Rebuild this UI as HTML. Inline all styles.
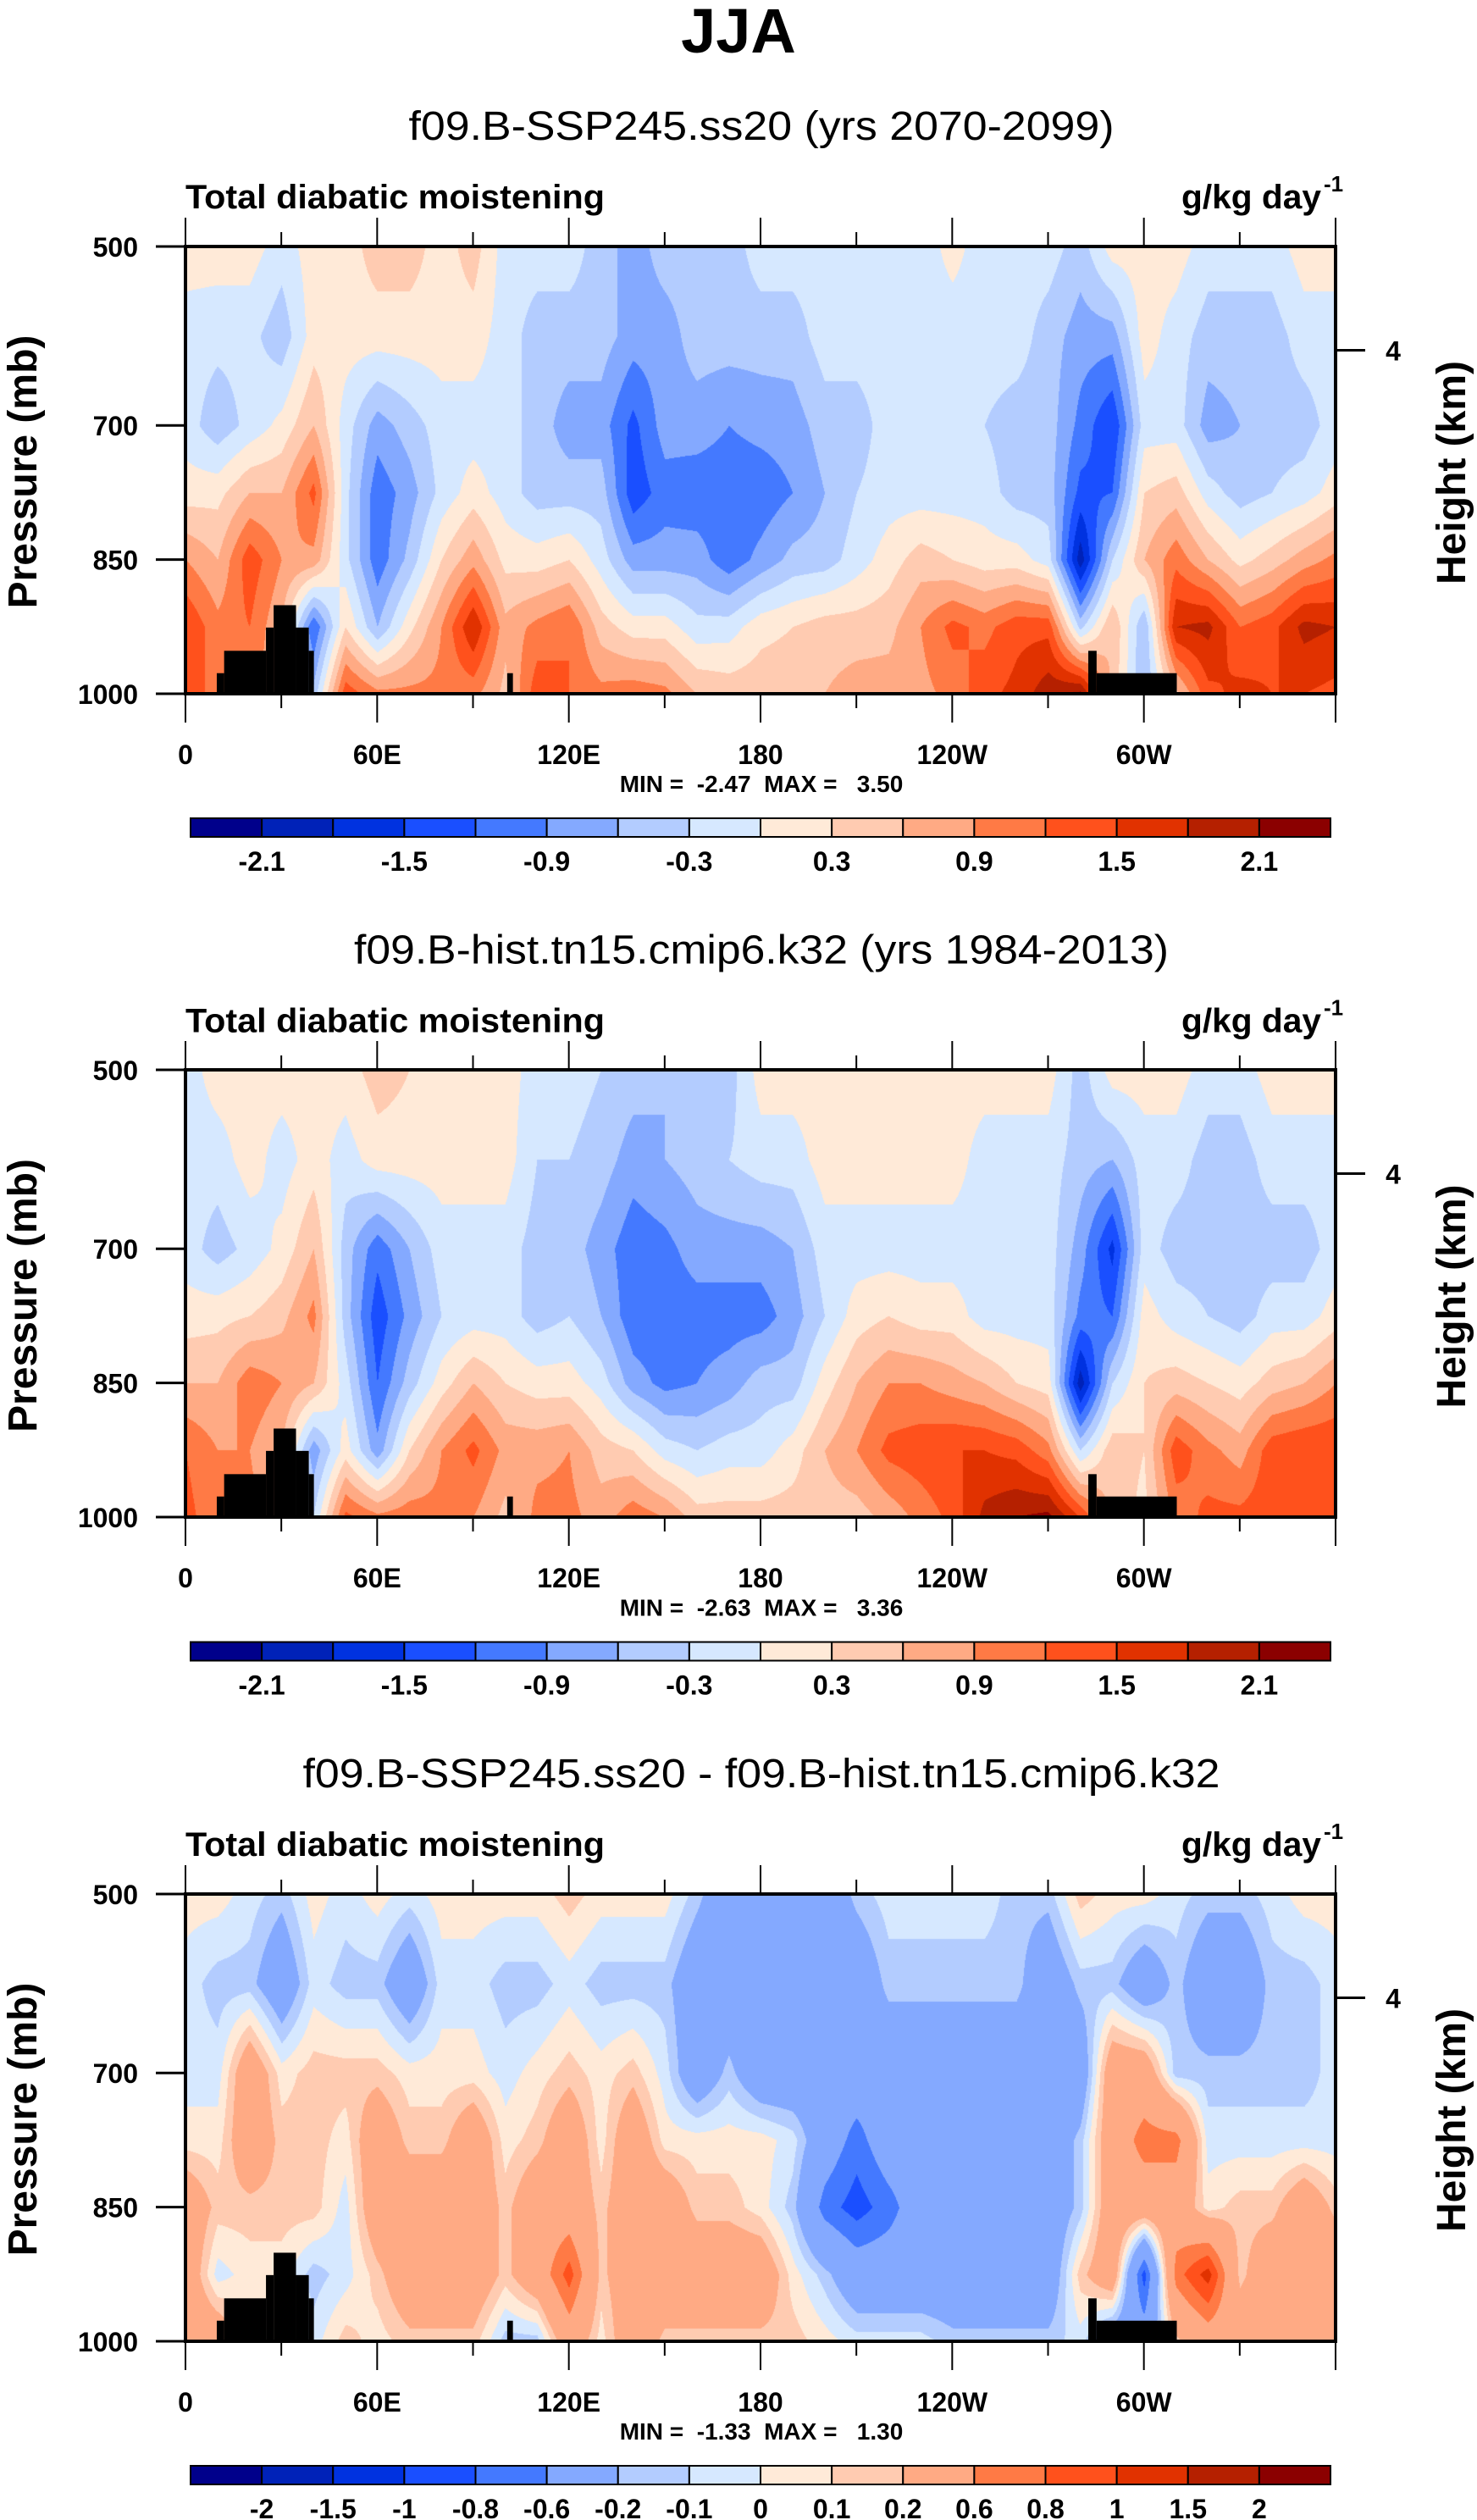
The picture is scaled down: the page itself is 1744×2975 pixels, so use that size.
<!DOCTYPE html>
<html><head><meta charset="utf-8">
<style>
html,body{margin:0;padding:0;background:#fff;}
#wrap{position:relative;width:1744px;height:2975px;overflow:hidden;}
canvas{position:absolute;}
svg{position:absolute;left:0;top:0;}
text{font-family:"Liberation Sans",sans-serif;fill:#000;}
.b{font-weight:bold;}
</style></head>
<body>
<div id="wrap">
<canvas id="c0" width="1358" height="528" style="left:219px;top:291px"></canvas>
<canvas id="c1" width="1358" height="528" style="left:219px;top:1263px"></canvas>
<canvas id="c2" width="1358" height="528" style="left:219px;top:2236px"></canvas>
<svg id="ov" width="1744" height="2975" xmlns="http://www.w3.org/2000/svg">
<text x="872" y="62" text-anchor="middle" class="b" font-size="74">JJA</text>
</svg>
</div>
<script>
// ---- data ----
const lons = [0,10,20,30,40,50,60,70,80,90,100,110,120,130,140,150,160,170,180,190,200,210,220,230,240,250,260,270,280,290,300,310,320,330,340,350,360];
const levels = [500,600,700,775,850,925,1000];
const xTickLabels = ["0","60E","120E","180","120W","60W"];
const xTickLons = [0,60,120,180,240,300];
const yTickLabels = ["500","700","850","1000"];
const yTickValues = [500,700,850,1000];
const heightTickLabels = ["4"];
const heightTickPressure = [616];
const colors = ["#00008B","#0022B8","#0032E0","#1A4FFF","#4479FF","#84A9FF","#B3CCFF","#D6E8FF","#FFEAD8","#FFCBB1","#FFAA84","#FF7A45","#FF511C","#E13200","#B52000","#8B0000"];
const bounds12 = [-2.1,-1.8,-1.5,-1.2,-0.9,-0.6,-0.3,0,0.3,0.6,0.9,1.2,1.5,1.8,2.1];
const labels12 = ["","-2.1","","-1.5","","-0.9","","-0.3","","0.3","","0.9","","1.5","","2.1"];
const bounds3 = [-2,-1.5,-1,-0.8,-0.6,-0.2,-0.1,0,0.1,0.2,0.6,0.8,1,1.5,2];
const labels3 = ["-2","-1.5","-1","-0.8","-0.6","-0.2","-0.1","0","0.1","0.2","0.6","0.8","1","1.5","2"];
const subtitles = ["f09.B-SSP245.ss20 (yrs 2070-2099)","f09.B-hist.tn15.cmip6.k32 (yrs 1984-2013)","f09.B-SSP245.ss20 - f09.B-hist.tn15.cmip6.k32"];
const minMax = ["MIN =  -2.47  MAX =   3.50","MIN =  -2.63  MAX =   3.36","MIN =  -1.33  MAX =   1.30"];
// topography mask (lon start, lon end, top pressure)
const topoLon0 = [9.8,12.1,25.2,27.6,34.6,38.6,100.7,282.6,285.2];
const topoLon1 = [12.1,25.2,27.6,34.6,38.6,40.2,102.5,285.2,310.3];
const topoTop = [977,952,926,901,926,952,977,952,977];
// fields: one array per longitude, values at levels (500..1000)
const field1 = [
[.15,-.15,-.15,.15,.9,1.5,1.5],[.15,-.2,-.5,.2,.6,1.0,1.0],[.15,-.2,-.2,.6,1.4,1.2,1.0],[-.15,-.5,.1,.6,.9,.6,.6],
[.15,.15,.6,1.3,.8,-1.2,-.5],[.15,.15,-.15,-.2,-.2,.3,1.4],[.45,.15,-.75,-1.1,-1.1,-.6,1.0],[.45,.15,-.45,-.75,-.5,.2,1.0],
[.15,.15,-.15,-.2,.3,.9,1.0],[.45,.15,-.15,.15,.8,1.8,1.0],[-.15,-.15,-.15,-.15,.2,.7,.5],[-.15,-.45,-.45,-.45,.15,1.0,1.4],
[-.15,-.45,-.75,-.45,.3,1.2,1.2],[-.45,-.45,-.75,-.45,-.15,.45,1.0],[-.75,-.75,-1.3,-1.4,-.75,.15,1.1],[-.45,-.75,-.75,-1.05,-.75,.15,1.0],
[-.45,-.45,-.75,-1.1,-.75,-.2,.6],[-.45,-.45,-.9,-1.1,-1.1,-.15,.5],[-.15,-.45,-.8,-1.1,-.8,.2,.5],[-.15,-.45,-.75,-.9,-.5,.3,.5],
[-.15,-.15,-.45,-.6,-.45,.45,.6],[-.15,-.15,-.45,-.3,-.15,.45,.75],[-.15,-.15,-.15,-.15,.15,.5,.75],[-.15,-.15,-.15,-.15,.45,.9,.8],
[.1,-.15,-.15,-.15,.3,1.3,1.0],[-.15,-.15,-.3,-.15,.15,1.1,1.4],[-.15,-.15,-.45,-.45,.15,1.4,1.6],[-.15,-.45,-.45,-.45,-.15,1.4,2.0],
[-.45,-.75,-1.0,-1.3,-2.0,-.4,2.2],[.15,-.75,-1.5,-1.2,-.3,.6,.5],[.15,.15,-.15,.3,.6,-.6,-.6],[.15,-.15,-.15,.45,1.1,1.8,.5],
[-.15,-.45,-.75,-.15,.6,1.9,1.4],[-.15,-.45,-.6,-.45,.2,1.2,1.6],[-.15,-.45,-.45,-.3,.45,1.4,1.5],[.15,-.15,-.45,-.15,.75,1.9,1.5],
[.15,-.15,-.15,.15,1.0,1.8,1.4]];
const field2 = [
[-.15,-.15,-.15,.15,.6,1.2,1.3],[.15,-.15,-.45,.2,.6,.9,1.0],[.15,.15,-.2,.3,1.1,.9,1.0],[.15,-.15,.1,.5,.9,.6,.6],
[.15,.15,.6,1.0,.6,-.8,-.3],[.15,-.15,-.45,-.45,-.15,.15,1.3],[.45,.15,-1.1,-1.4,-1.2,-.8,1.0],[.3,.15,-.6,-.8,-.45,.3,1.1],
[.15,.15,-.15,-.3,.15,.9,1.0],[.15,.15,-.15,-.15,.6,1.3,.9],[.15,.15,-.15,-.15,.3,.8,.5],[-.15,-.3,-.45,-.45,.15,.8,1.0],
[-.15,-.3,-.45,-.3,.15,.9,1.0],[-.3,-.45,-.75,-.6,-.15,.45,.75],[-.45,-.75,-1.1,-1.1,-.75,.3,1.1],[-.6,-.6,-1.0,-1.1,-1.0,-.15,.9],
[-.45,-.45,-.75,-1.05,-.9,-.3,.45],[-.45,-.3,-.75,-1.05,-.75,-.15,.45],[.15,-.15,-.75,-1.05,-.45,-.15,.45],[.15,-.15,-.6,-.75,-.45,.15,.45],
[.15,.15,-.15,-.3,.15,.6,.45],[.15,.15,-.15,.15,.6,.9,.45],[.15,.15,-.15,.3,.9,1.3,.7],[.15,.15,-.15,.15,.9,1.4,1.0],
[.15,.15,-.15,.15,.75,1.5,1.3],[.15,-.15,-.15,-.15,.6,1.5,1.9],[.15,-.15,-.15,-.15,.3,1.4,2.1],[.15,-.15,-.15,-.15,.15,1.0,2.2],
[-.45,-.45,-.75,-1.0,-2.0,-.3,1.5],[.15,-.6,-1.6,-1.2,-.3,.5,.5],[.15,-.15,-.15,.15,.3,.3,.2],[.15,-.15,-.45,-.15,.45,1.4,1.0],
[-.15,-.45,-.45,-.3,.3,1.0,1.3],[-.15,-.45,-.45,-.45,.15,.75,1.3],[.15,-.15,-.45,-.15,.45,1.4,1.4],[.15,-.15,-.45,-.15,.6,1.5,1.3],
[.15,-.15,-.15,.15,.9,1.5,1.3]];
const field3 = [
[.05,-.05,-.05,.05,.4,.4,.4],[.05,-.15,-.05,.05,.15,-.05,.4],[-.05,-.15,.4,.4,.15,.05,.05],[-.15,-.4,.05,.15,.15,.05,.05],
[.05,-.05,.15,.15,.15,-.15,-.05],[-.05,-.15,.15,.05,-.05,-.05,.15],[.05,-.15,.15,.4,.4,.15,.05],[-.05,-.4,.05,.15,.4,.4,.15],
[.05,-.05,.05,.15,.4,.4,.15],[.05,-.05,.05,.4,.4,.4,.15],[.05,-.15,-.05,.05,.15,.15,-.15],[.05,-.15,.05,.15,.4,.4,-.15],
[.15,-.05,.15,.4,.4,.9,.4],[.05,-.15,.05,.05,.15,.15,.05],[.05,-.15,.15,.4,.4,.4,.4],[.05,-.15,-.05,.05,.4,.4,.15],
[-.15,-.4,-.4,.05,.15,.4,.15],[-.4,-.4,-.15,.05,.15,.4,.15],[-.4,-.4,-.4,.05,.05,.4,.15],[-.4,-.4,-.4,-.05,-.15,.05,.15],
[-.4,-.4,-.4,-.4,-.7,-.15,.05],[-.15,-.4,-.4,-.7,-.9,-.4,-.05],[-.05,-.15,-.4,-.4,-.7,-.4,-.05],[-.05,-.15,-.4,-.4,-.4,-.4,-.05],
[-.05,-.15,-.4,-.4,-.4,-.4,-.15],[-.05,-.15,-.4,-.4,-.4,-.4,-.15],[-.15,-.15,-.4,-.4,-.4,-.4,-.15],[-.15,-.4,-.4,-.4,-.4,-.4,-.15],
[.15,-.15,-.4,-.15,-.15,.15,-.05],[.05,-.15,.4,.4,.4,.4,-.4],[.05,-.4,.4,.7,.4,-.9,-.4],[-.05,-.15,-.15,.7,.4,.7,.15],
[-.15,-.4,-.15,-.05,.05,1.1,.4],[-.15,-.4,-.15,-.05,.15,.15,.4],[-.05,-.15,-.15,-.05,.15,.4,.4],[.05,-.15,-.15,-.05,.4,.4,.4],
[.05,-.05,-.05,-.05,.15,.4,.4]];

// ---- geometry ----
const X0=219, W=1358, H=528;
const panelTop=[291,1263,2236];
const fields=[field1,field2,field3];
const boundsList=[bounds12,bounds12,bounds3];
const labelsList=[labels12,labels12,labels3];
function xOf(lon){return X0+lon/360*W;}
function yOf(p,top){return top+(p-500)/500*H;}
function hexRGB(h){return [parseInt(h.slice(1,3),16),parseInt(h.slice(3,5),16),parseInt(h.slice(5,7),16)];}
const rgb=colors.map(hexRGB);

function sample(f,lon,p){
  let i=Math.min(lons.length-2,Math.floor(lon/10)); let fx=(lon-lons[i])/10;
  let j=0; while(j<levels.length-2 && p>levels[j+1]) j++;
  let fy=(p-levels[j])/(levels[j+1]-levels[j]); fy=Math.max(0,Math.min(1,fy));
  const a=f[i][j],b=f[i+1][j],c=f[i][j+1],d=f[i+1][j+1];
  return (a*(1-fx)+b*fx)*(1-fy)+(c*(1-fx)+d*fx)*fy;
}
function drawPanel(k){
  const cv=document.getElementById('c'+k), ctx=cv.getContext('2d');
  const img=ctx.createImageData(W,H); const f=fields[k], bd=boundsList[k];
  for(let y=0;y<H;y++){ const p=500+y/H*500;
    for(let x=0;x<W;x++){ const lon=x/W*360; const v=sample(f,lon,p);
      let c=0; while(c<bd.length && v>=bd[c]) c++;
      const o=(y*W+x)*4; const col=rgb[c]; img.data[o]=col[0];img.data[o+1]=col[1];img.data[o+2]=col[2];img.data[o+3]=255; } }
  ctx.putImageData(img,0,0);
}
const NS="http://www.w3.org/2000/svg"; const svg=document.getElementById('ov');
function el(tag,attrs,txt){const e=document.createElementNS(NS,tag);for(const a in attrs)e.setAttribute(a,attrs[a]);if(txt!==undefined)e.textContent=txt;svg.appendChild(e);return e;}

for(let k=0;k<3;k++){
  drawPanel(k);
  const top=panelTop[k], bot=top+H, dy=k*972.5;
  let e;
  e=el('text',{x:899,y:165+dy,'text-anchor':'middle','font-size':48,textLength:[833,962,1083][k],lengthAdjust:'spacingAndGlyphs'},subtitles[k]);
   
  e=el('text',{x:219,y:246+dy,'font-size':40,'class':'b',textLength:495,lengthAdjust:'spacingAndGlyphs'},'Total diabatic moistening');
   
  e=el('text',{x:1560,y:246+dy,'font-size':40,'class':'b','text-anchor':'end',textLength:165,lengthAdjust:'spacingAndGlyphs'},'g/kg day');
   
  e=el('text',{x:1563,y:226+dy,'font-size':26,'class':'b'},'-1');
   
  // topography
  for(let t=0;t<topoLon0.length;t++){
    e=el('rect',{x:xOf(topoLon0[t]),y:yOf(topoTop[t],top),width:xOf(topoLon1[t])-xOf(topoLon0[t]),height:bot-yOf(topoTop[t],top),fill:'#000'});
     
  }
  // frame
  e=el('rect',{x:X0,y:top,width:W,height:H,fill:'none',stroke:'#000','stroke-width':4});
   
  // x ticks
  for(let lon=0;lon<=360;lon+=30){
    const major=lon%60===0, len=major?34:17, x=xOf(lon);
    e=el('line',{x1:x,x2:x,y1:top,y2:top-len,stroke:'#000','stroke-width':2});
     
    e=el('line',{x1:x,x2:x,y1:bot,y2:bot+len,stroke:'#000','stroke-width':2});
     
  }
  for(let t=0;t<xTickLabels.length;t++){
    e=el('text',{x:xOf(xTickLons[t]),y:bot+83,'text-anchor':'middle','font-size':32,'class':'b'},xTickLabels[t]);
     
  }
  for(let t=0;t<yTickLabels.length;t++){
    const y=yOf(yTickValues[t],top);
    e=el('line',{x1:X0,x2:X0-35,y1:y,y2:y,stroke:'#000','stroke-width':3});
     
    e=el('text',{x:163,y:y+12,'text-anchor':'end','font-size':32,'class':'b'},yTickLabels[t]);
     
  }
  for(let t=0;t<heightTickLabels.length;t++){
    const y=yOf(heightTickPressure[t],top);
    e=el('line',{x1:X0+W,x2:X0+W+35,y1:y,y2:y,stroke:'#000','stroke-width':3});
     
    e=el('text',{x:1645,y:y+12,'text-anchor':'middle','font-size':32,'class':'b'},heightTickLabels[t]);
     
  }
  e=el('text',{x:0,y:0,'font-size':48,'class':'b','text-anchor':'middle',transform:`translate(43,${557+dy}) rotate(-90)`},'Pressure (mb)');
   
  e=el('text',{x:0,y:0,'font-size':48,'class':'b','text-anchor':'middle',transform:`translate(1730,${558+dy}) rotate(-90)`},'Height (km)');
   
  e=el('text',{x:899,y:935+dy,'text-anchor':'middle','font-size':28,'class':'b',style:'white-space:pre'},minMax[k]);
   
  // colorbar
  const cbX=225, cbW=1346, cbY=966+dy, cbH=22, bw=cbW/16;
  for(let c=0;c<16;c++){
    e=el('rect',{x:cbX+c*bw,y:cbY,width:bw,height:cbH,fill:colors[c],stroke:'#000','stroke-width':2});
     
  }
  const lab=labelsList[k];
  for(let c=0;c<lab.length;c++){
    if(!lab[c]) continue;
    const lx = (k<2) ? cbX+c*bw : cbX+(c+1)*bw;
    e=el('text',{x:lx,y:1028+dy,'text-anchor':'middle','font-size':32,'class':'b'},lab[c]);
     
  }
}
</script>
</body></html>
